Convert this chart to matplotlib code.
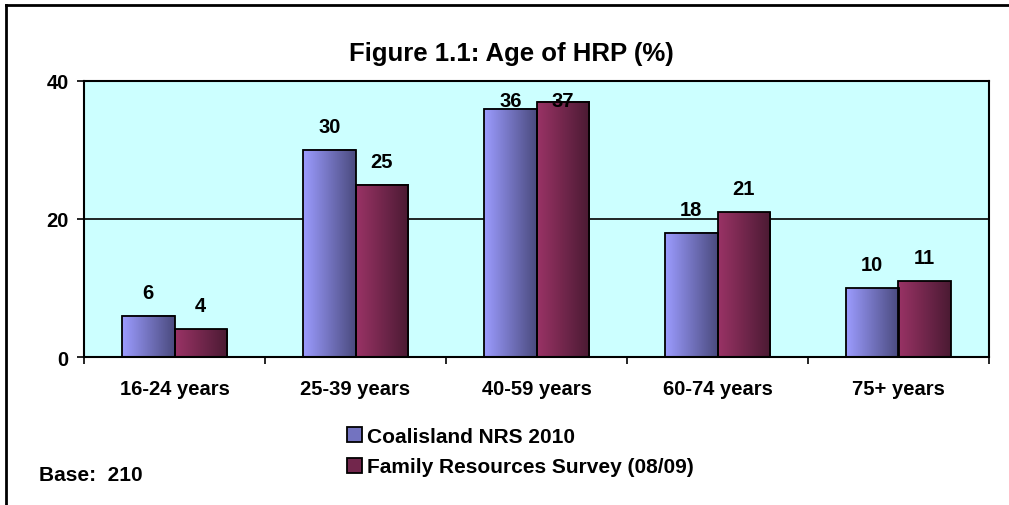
import numpy as np
import matplotlib.pyplot as plt
from matplotlib.colors import LinearSegmentedColormap
from matplotlib.patches import Patch
from matplotlib.lines import Line2D

plt.rcParams['font.family'] = ['Liberation Sans', 'DejaVu Sans']
plt.rcParams['font.weight'] = 'bold'

# Data
categories = ['16-24 years', '25-39 years', '40-59 years', '60-74 years', '75+ years']
coalisland = [6, 30, 36, 18, 10]
frs = [4, 25, 37, 21, 11]
series_names = ['Coalisland NRS 2010', 'Family Resources Survey (08/09)']

blue_grad = LinearSegmentedColormap.from_list('b', ['#9C9CFF', '#4A4A7E'])
red_grad = LinearSegmentedColormap.from_list('r', ['#9A3366', '#4A1A32'])

fig = plt.figure(figsize=(10.09, 5.06), dpi=100)
ax = fig.add_axes([84 / 1009, 1 - 358 / 506, (989 - 84) / 1009, (358 - 82) / 506])
ax.set_facecolor('#CCFFFF')

x = np.arange(len(categories))
w = 0.29
grad = np.linspace(0, 1, 256).reshape(1, -1)
fs = 14.5


def gradient_bars(xs, vals, cmap):
    bars = ax.bar(xs, vals, w, facecolor='none', edgecolor='black', linewidth=1.3, zorder=3)
    for b in bars:
        x0, y0 = b.get_x(), b.get_y()
        ax.imshow(grad, cmap=cmap, aspect='auto', zorder=2,
                  extent=(x0, x0 + b.get_width(), y0, y0 + b.get_height()))
    for xi, v in zip(xs, vals):
        # labels near the top are pushed down inside the plot, like Excel does
        ax.text(xi, min(v + 2.6, 36.4), str(v), ha='center', va='baseline',
                fontsize=fs, fontweight='bold', zorder=4)


gradient_bars(x - w / 2, coalisland, blue_grad)
gradient_bars(x + w / 2, frs, red_grad)

ax.set_xlim(-0.5, len(categories) - 0.5)
ax.set_ylim(0, 40)
ax.axhline(20, color='black', linewidth=1.2, zorder=1)

for s in ax.spines.values():
    s.set_linewidth(1.5)

ax.set_yticks([0, 20, 40])
ax.set_xticks(np.arange(-0.5, len(categories)), labels=[''] * (len(categories) + 1))
ax.set_xticks(x, labels=categories, minor=True)
ax.tick_params(axis='x', which='major', direction='out', length=5, width=1.2)
ax.tick_params(axis='x', which='minor', length=0, pad=16, labelsize=fs)
ax.tick_params(axis='y', direction='out', length=5, width=1.2, labelsize=fs, pad=6)
for lab in ax.get_xticklabels(minor=True) + ax.get_yticklabels():
    lab.set_fontweight('bold')

fig.text(511 / 1009, 1 - 61 / 506, 'Figure 1.1: Age of HRP (%)', ha='center', va='baseline',
         fontsize=18.5, fontweight='bold')

handles = [Patch(facecolor='#7373C0', edgecolor='black', linewidth=1.3),
           Patch(facecolor='#72264C', edgecolor='black', linewidth=1.3)]
fig.legend(handles, series_names, loc='upper left', bbox_to_anchor=(347 / 1009, 1 - 428 / 506),
           frameon=False, handlelength=0.72, handleheight=0.72, handletextpad=0.25,
           labelspacing=0.55, borderpad=0, borderaxespad=0,
           prop={'size': 15, 'weight': 'bold'})

fig.text(39 / 1009, 1 - 476 / 506, 'Base:  210', ha='left', va='center', fontsize=15, fontweight='bold')

# outer chart frame (clipped by the image edge)
fig.add_artist(Line2D([6 / 1009, 1.0], [1 - 6 / 506] * 2, color='black', linewidth=2,
                      transform=fig.transFigure))
fig.add_artist(Line2D([6 / 1009] * 2, [0, 1 - 6 / 506], color='black', linewidth=2,
                      transform=fig.transFigure))

fig.savefig('out.png', dpi=100)
